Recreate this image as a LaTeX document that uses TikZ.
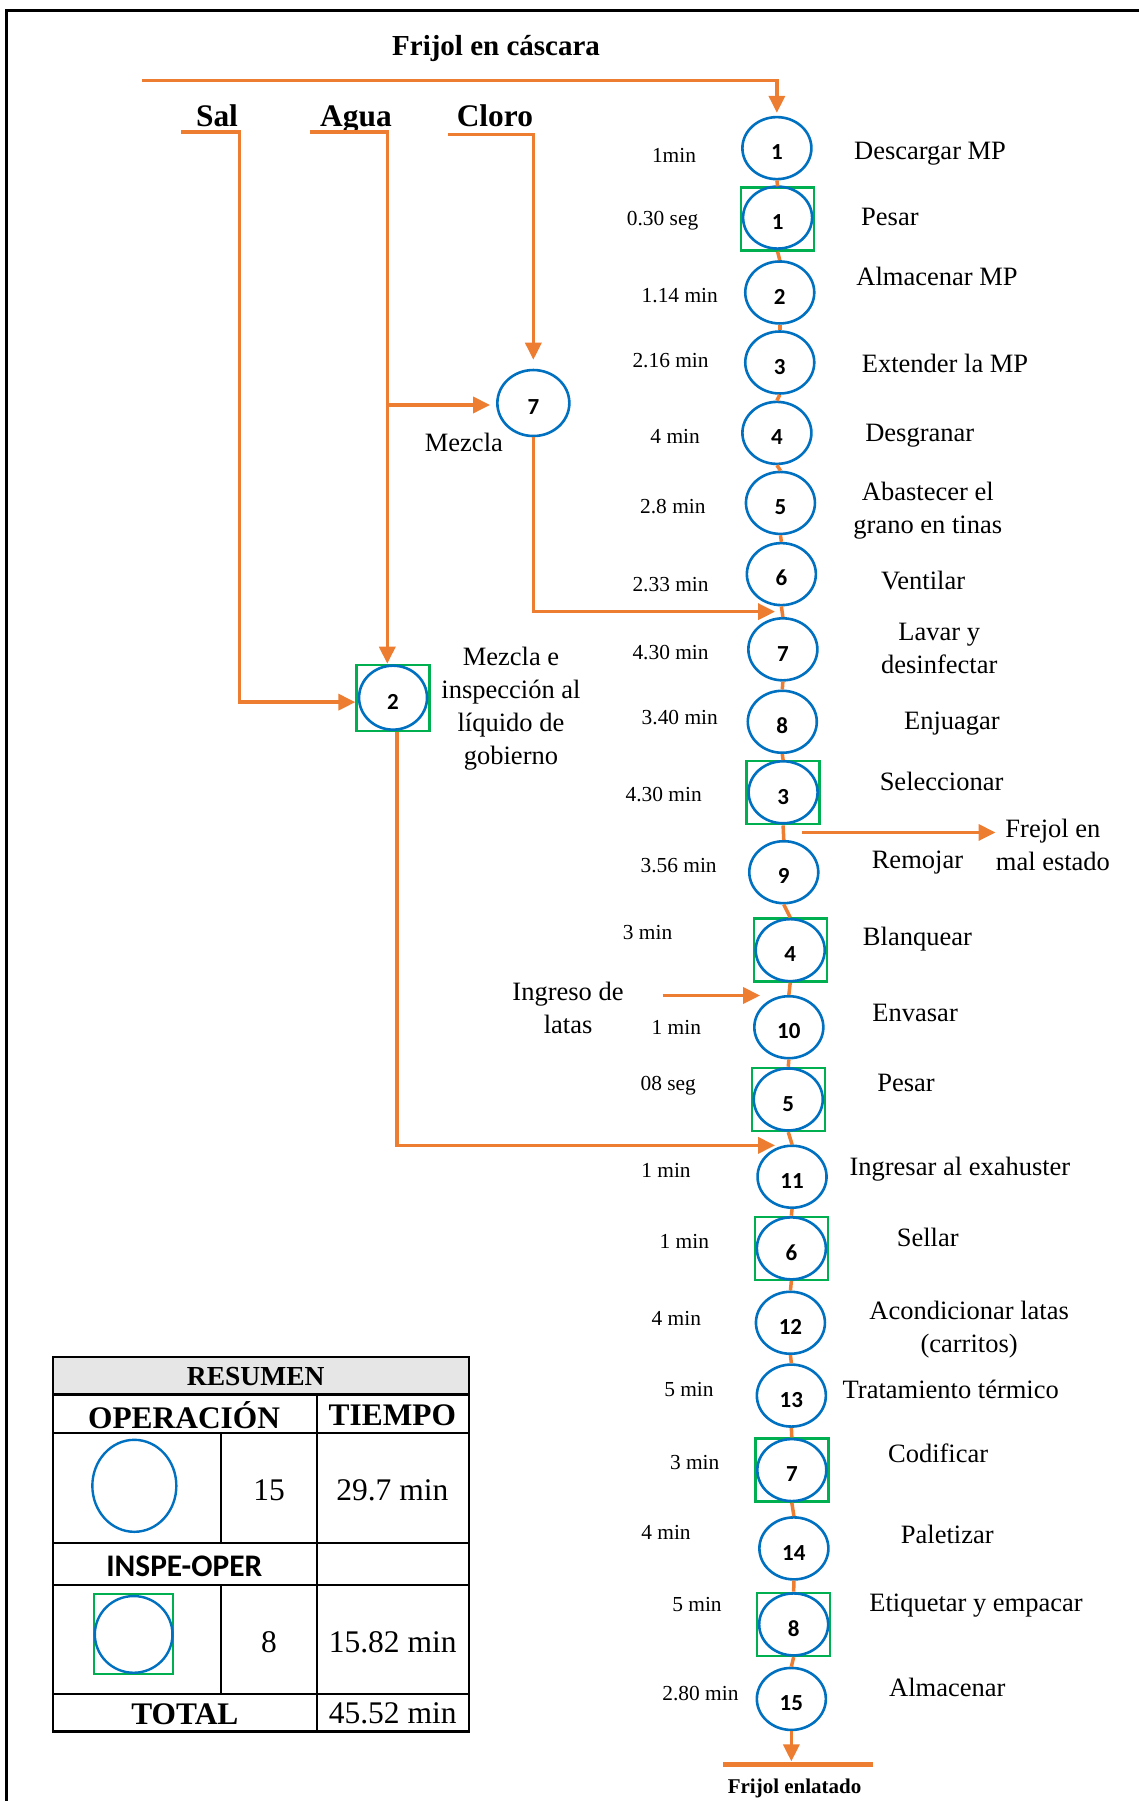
\documentclass[tikz,border=0pt]{standalone}
\usepackage{fontspec}
\setmainfont{Liberation Serif}
\newfontfamily\calfont{Carlito}
\usetikzlibrary{arrows.meta,shapes.geometric,calc}
\definecolor{flowor}{HTML}{ED7D31}
\definecolor{opblue}{HTML}{0070C0}
\definecolor{insgreen}{HTML}{00B050}
\definecolor{headgray}{HTML}{E7E6E6}

\begin{document}
\begin{tikzpicture}[x=1.1482pt,y=-1.1482pt,
  op/.style={ellipse,draw=opblue,line width=2.6pt,minimum width=69pt,minimum height=62pt,
    inner sep=0pt,font=\calfont\bfseries\fontsize{23}{23}\selectfont,text height=23.5pt,text depth=0pt},
  insbox/.style={rectangle,draw=insgreen,line width=2.4pt,minimum width=73pt,minimum height=63pt,inner sep=0pt},
  flow/.style={draw=flowor,line width=3.5pt},
  arr/.style={flow,-{Triangle[length=17pt,width=16pt]}},
  lbl/.style={font=\fontsize{26.5}{33}\selectfont,inner sep=0pt,text height=17.5pt,text depth=0pt},
  lbltwo/.style={font=\fontsize{26.5}{33}\selectfont,align=center,inner sep=0pt},
  tm/.style={font=\fontsize{21.4}{26}\selectfont,inner sep=0pt,text height=14pt,text depth=0pt},
  head/.style={font=\bfseries\fontsize{31.4}{34}\selectfont,inner sep=0pt},
  cell/.style={font=\fontsize{31.5}{34}\selectfont,inner sep=0pt},
  title/.style={font=\bfseries\fontsize{31.4}{34}\selectfont,inner sep=0pt,anchor=base},
  tline/.style={line width=2.2pt,draw=black}
]
\useasboundingbox (0,0) rectangle (992,1568.5);

% frame
\draw[line width=3pt] (992,9.3) -- (6,9.3) -- (6,1568.5);

% ---------------- main process column ----------------
\node[op] (o1) at (676.6,129) {1};
\node[insbox] (s1) at (677.2,190.7) {}; \node[op] (s1c) at (677.2,189.5) {1};
\node[op] (o2) at (679.1,254.7) {2};
\node[op] (o3) at (679.1,315.7) {3};
\node[op] (o4) at (676.6,377) {4};
\node[op] (o5) at (679.7,438) {5};
\node[op] (o6) at (680.5,500) {6};
\node[op] (o7) at (681.8,565.5) {7};
\node[op] (o8) at (681.3,628.6) {8};
\node[insbox] (s3) at (682,690.4) {}; \node[op] (s3c) at (682,690) {3};
\node[op] (o9) at (682.6,759.6) {9};
\node[insbox] (s4) at (688.2,827.5) {}; \node[op] (s4c) at (688.2,827.5) {4};
\node[op] (o10) at (687,894.6) {10};
\node[insbox] (s5) at (686.5,957.5) {}; \node[op] (s5c) at (686.5,957.5) {5};
\node[op] (o11) at (689.8,1024.8) {11};
\node[insbox] (s6) at (689.2,1087.2) {}; \node[op] (s6c) at (689.2,1087.2) {6};
\node[op] (o12) at (688.4,1152) {12};
\node[op] (o13) at (689.2,1215.4) {13};
\node[insbox] (s7) at (689.6,1280.3) {}; \node[op] (s7c) at (689.6,1280.3) {7};
\node[op] (o14) at (691.4,1348.5) {14};
\node[insbox] (s8) at (691.2,1414.7) {}; \node[op] (s8c) at (691.2,1414.7) {8};
\node[op] (o15) at (689.2,1479.6) {15};

\foreach \a/\b in {o1/s1,s1/o2,o2/o3,o3/o4,o4/o5,o5/o6,o6/o7,o7/o8,o8/s3,s3/o9,o9/s4,s4/o10,
  o10/s5,s5/o11,o11/s6,s6/o12,o12/o13,o13/s7,s7/o14,o14/s8,s8/o15}
  \draw[flow] (\a.south) -- (\b.north);

% end of process
\coordinate (finL) at (630,1536.6);
\coordinate (finR) at (760,1536.6);
\coordinate (fin) at (693,1534);
\draw[arr] (o15.south) -- (o15.south |- fin);
\draw[draw=flowor,line width=5pt] (finL) -- (finR);
\node[font=\bfseries\fontsize{21}{24}\selectfont,inner sep=0pt,text height=14pt,text depth=0pt] (tfin) at (692,1556) {Frijol enlatado};

% raw material input
\node[font=\bfseries\fontsize{29}{32}\selectfont,inner sep=0pt,text height=19pt,text depth=0pt] (tmp) at (432,40) {Frijol en cáscara};
\coordinate (mpin) at (124,70);
\draw[arr,shorten >=3pt] (mpin) -| (o1.north);

% ---------------- mixing branch ----------------
\node[title] (tsal) at (189,110) {Sal};
\node[title] (tagua) at (310,110) {Agua};
\node[title] (tcloro) at (431,110) {Cloro};

\node[op,minimum width=72pt,minimum height=66pt] (m7) at (464.5,351) {7};
\node[lbl] (tm7) at (404,386) {Mezcla};

\node[insbox,minimum width=73pt,minimum height=66pt] (s2) at (342.3,607.8) {};
\node[op,minimum width=68pt,minimum height=64pt] (s2c) at (342.3,607.6) {2};
\node[lbltwo] (ts2) at (445,617.5) {Mezcla e\\inspección al\\líquido de\\gobierno};

\coordinate (salA) at (158,115);
\coordinate (salB) at (208.4,115);
\draw[arr] (salA) -- (salB) -- (salB |- 0,611.5) -- (s2.west |- 0,611.5);

\coordinate (aguaA) at (270,115);
\coordinate (aguaB) at (337.3,115);
\draw[arr] (aguaA) -- (aguaB) -- (aguaB |- s2.north);
\draw[arr,shorten >=6pt] (aguaB |- 0,352.7) -- (m7.west |- 0,352.7);

\coordinate (cloroA) at (390,117);
\coordinate (cloroB) at (464.5,117);
\draw[arr,shorten >=9pt] (cloroA) -- (cloroB) -- (m7.north);

\coordinate (j7) at (675,532.7);
\draw[arr] (m7.south) |- (j7);

\coordinate (j2) at (675,997.5);
\draw[arr] ([xshift=4.2pt]s2.south) |- (j2);

% reject output
\coordinate (rejA) at (698.5,725);
\coordinate (rejB) at (867,725);
\draw[arr] (rejA) -- (rejB);
\node[lbltwo] (trej) at (917,736) {Frejol en\\mal estado};

% can input
\coordinate (latA) at (577,867);
\coordinate (latB) at (662,867);
\draw[arr] (latA) -- (latB);
\node[lbltwo] (tlat) at (494.7,878) {Ingreso de\\latas};

% ---------------- activity labels ----------------
\node[lbl] at (810,131) {Descargar MP};
\node[lbl] at (775,189) {Pesar};
\node[lbl] at (816,241) {Almacenar MP};
\node[lbl] at (823,317) {Extender la MP};
\node[lbl] at (801,377) {Desgranar};
\node[lbltwo] at (808,445) {Abastecer el\\grano en tinas};
\node[lbl] at (804,506) {Ventilar};
\node[lbltwo] at (818,565) {Lavar y\\desinfectar};
\node[lbl] at (829,628) {Enjuagar};
\node[lbl] at (820,681) {Seleccionar};
\node[lbl] at (799,749) {Remojar};
\node[lbl] at (799,816) {Blanquear};
\node[lbl] at (797,882) {Envasar};
\node[lbl] at (789,943) {Pesar};
\node[lbl] at (836,1016) {Ingresar al exahuster};
\node[lbl] at (808,1078) {Sellar};
\node[lbltwo] at (844,1158) {Acondicionar latas\\(carritos)};
\node[lbl] at (828,1210) {Tratamiento térmico};
\node[lbl] at (817,1266) {Codificar};
\node[lbl] at (825,1337) {Paletizar};
\node[lbl] at (850,1396) {Etiquetar y empacar};
\node[lbl] at (825,1470) {Almacenar};

% ---------------- times ----------------
\node[tm] at (587,135) {1min};
\node[tm] at (577,190) {0.30 seg};
\node[tm] at (592,257) {1.14 min};
\node[tm] at (584,314) {2.16 min};
\node[tm] at (588,380) {4 min};
\node[tm] at (586,441) {2.8 min};
\node[tm] at (584,509) {2.33 min};
\node[tm] at (584,568) {4.30 min};
\node[tm] at (592,625) {3.40 min};
\node[tm] at (578,692) {4.30 min};
\node[tm] at (591,754) {3.56 min};
\node[tm] at (564,812) {3 min};
\node[tm] at (589,895) {1 min};
\node[tm] at (582,944) {08 seg};
\node[tm] at (580,1019) {1 min};
\node[tm] at (596,1081) {1 min};
\node[tm] at (589,1148) {4 min};
\node[tm] at (600,1210) {5 min};
\node[tm] at (605,1274) {3 min};
\node[tm] at (580,1335) {4 min};
\node[tm] at (607,1397) {5 min};
\node[tm] at (610,1475) {2.80 min};

% ---------------- summary table ----------------
\fill[headgray] (46,1182) rectangle (408.5,1214.4);
\draw[tline] (46,1182) rectangle (408.5,1508);
\draw[tline] (46,1214.4) -- (408.5,1214.4);
\draw[tline] (46,1248.3) -- (408.5,1248.3);
\draw[tline] (46,1344.1) -- (408.5,1344.1);
\draw[tline] (46,1380.4) -- (408.5,1380.4);
\draw[tline] (46,1475.4) -- (408.5,1475.4);
\draw[tline] (275.8,1214.4) -- (275.8,1508);
\draw[tline] (192.5,1248.3) -- (192.5,1344.1);
\draw[tline] (192.5,1380.4) -- (192.5,1475.4);

\node[font=\bfseries\fontsize{27.5}{30}\selectfont,inner sep=0pt] (tres) at (222.7,1199) {RESUMEN};
\node[head] (topr) at (160.3,1232.4) {OPERACIÓN};
\node[head] (ttie) at (341.7,1232.4) {TIEMPO};
\node[ellipse,draw=opblue,line width=2.4pt,minimum width=84pt,minimum height=92pt] (kop) at (117,1294) {};
\node[cell] (nop) at (234.3,1297.7) {15};
\node[cell] (top) at (341.7,1297.7) {29.7 min};
\node[font=\calfont\bfseries\fontsize{31.4}{34}\selectfont,inner sep=0pt] (tins) at (160.5,1364.5) {INSPE-OPER};
\node[rectangle,draw=insgreen,line width=2.2pt,minimum width=79pt,minimum height=80pt] (kinb) at (116.4,1423.2) {};
\node[ellipse,draw=opblue,line width=2.4pt,minimum width=77.6pt,minimum height=76.7pt] (kin) at (116.4,1423.4) {};
\node[cell] (nin) at (234.3,1429.8) {8};
\node[cell] (tin) at (342,1430) {15.82 min};
\node[head] (ttot) at (161,1492.8) {TOTAL};
\node[cell] (vtot) at (342,1492.5) {45.52 min};
\end{tikzpicture}
\end{document}
